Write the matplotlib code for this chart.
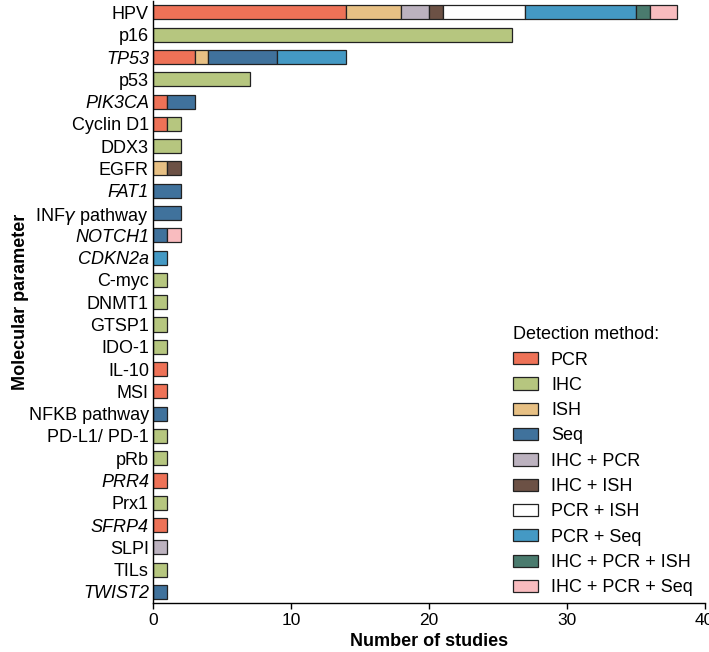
import matplotlib

matplotlib.use("Agg")

import matplotlib.pyplot as plt
from matplotlib.patches import Patch
import numpy as np

plt.rcParams["font.family"] = ["Liberation Sans", "DejaVu Sans"]

parameters = [
    "HPV", "p16", "TP53", "p53", "PIK3CA", "Cyclin D1", "DDX3", "EGFR",
    "FAT1", "INF$\\gamma$ pathway", "NOTCH1", "CDKN2a", "C-myc", "DNMT1",
    "GTSP1", "IDO-1", "IL-10", "MSI", "NFKB pathway", "PD-L1/ PD-1", "pRb",
    "PRR4", "Prx1", "SFRP4", "SLPI", "TILs", "TWIST2",
]
italic_names = {"TP53", "PIK3CA", "FAT1", "NOTCH1", "CDKN2a", "PRR4", "SFRP4", "TWIST2"}

methods = [
    "PCR", "IHC", "ISH", "Seq", "IHC + PCR", "IHC + ISH",
    "PCR + ISH", "PCR + Seq", "IHC + PCR + ISH", "IHC + PCR + Seq",
]
method_colors = [
    "#ee7257", "#b6c67f", "#e7c084", "#40729c", "#bcb2bf", "#6c5145",
    "#ffffff", "#4499c4", "#4a7b6e", "#f9bcbf",
]

# counts per parameter, one list per method (same order as parameters)
pcr = [14, 0, 3, 0, 1, 1, 0, 0, 0, 0, 0, 0, 0, 0, 0, 0, 1, 1, 0, 0, 0, 1, 0, 1, 0, 0, 0]
ihc = [0, 26, 0, 7, 0, 1, 2, 0, 0, 0, 0, 0, 1, 1, 1, 1, 0, 0, 0, 1, 1, 0, 1, 0, 0, 1, 0]
ish = [4, 0, 1, 0, 0, 0, 0, 1, 0, 0, 0, 0, 0, 0, 0, 0, 0, 0, 0, 0, 0, 0, 0, 0, 0, 0, 0]
seq = [0, 0, 5, 0, 2, 0, 0, 0, 2, 2, 1, 0, 0, 0, 0, 0, 0, 0, 1, 0, 0, 0, 0, 0, 0, 0, 1]
ihc_pcr = [2, 0, 0, 0, 0, 0, 0, 0, 0, 0, 0, 0, 0, 0, 0, 0, 0, 0, 0, 0, 0, 0, 0, 0, 1, 0, 0]
ihc_ish = [1, 0, 0, 0, 0, 0, 0, 1, 0, 0, 0, 0, 0, 0, 0, 0, 0, 0, 0, 0, 0, 0, 0, 0, 0, 0, 0]
pcr_ish = [6, 0, 0, 0, 0, 0, 0, 0, 0, 0, 0, 0, 0, 0, 0, 0, 0, 0, 0, 0, 0, 0, 0, 0, 0, 0, 0]
pcr_seq = [8, 0, 5, 0, 0, 0, 0, 0, 0, 0, 0, 1, 0, 0, 0, 0, 0, 0, 0, 0, 0, 0, 0, 0, 0, 0, 0]
ihc_pcr_ish = [1, 0, 0, 0, 0, 0, 0, 0, 0, 0, 0, 0, 0, 0, 0, 0, 0, 0, 0, 0, 0, 0, 0, 0, 0, 0, 0]
ihc_pcr_seq = [2, 0, 0, 0, 0, 0, 0, 0, 0, 0, 1, 0, 0, 0, 0, 0, 0, 0, 0, 0, 0, 0, 0, 0, 0, 0, 0]

series = [pcr, ihc, ish, seq, ihc_pcr, ihc_ish, pcr_ish, pcr_seq, ihc_pcr_ish, ihc_pcr_seq]

figure = plt.figure(figsize=(7.09, 6.52), dpi=100)
axis = figure.add_axes([0.216, 0.075, 0.778, 0.923])

positions = np.arange(len(parameters))
left = np.zeros(len(parameters))
for values, color in zip(series, method_colors):
    values = np.asarray(values, dtype=float)
    mask = values > 0
    axis.barh(
        positions[mask], values[mask], left=left[mask], height=0.63,
        color=color, edgecolor="#222222", linewidth=0.9,
    )
    left += values

axis.set_ylim(len(parameters) - 0.5, -0.5)
axis.set_xlim(0, 40)
axis.set_yticks(positions)
axis.set_yticklabels(parameters, fontsize=13)
for label in axis.get_yticklabels():
    if label.get_text() in italic_names:
        label.set_fontstyle("italic")
axis.tick_params(axis="y", length=0, pad=3)
axis.set_xticks([0, 10, 20, 30, 40])
axis.tick_params(axis="x", labelsize=12.5, length=4, width=1, direction="out", pad=3)
axis.spines["top"].set_visible(False)
axis.spines["right"].set_visible(False)
axis.spines["left"].set_linewidth(1)
axis.spines["bottom"].set_linewidth(1)
axis.set_xlabel("Number of studies", fontsize=13, fontweight="bold", labelpad=4)
axis.set_ylabel("Molecular parameter", fontsize=13, fontweight="bold", labelpad=0)

handles = [
    Patch(facecolor=c, edgecolor="#222222", linewidth=0.9, label=m)
    for m, c in zip(methods, method_colors)
]
figure.legend(
    handles=handles, title="Detection method:", loc="upper left",
    bbox_to_anchor=(0.7134, 0.5107), borderaxespad=0, frameon=False,
    fontsize=13, title_fontsize=13, alignment="left",
    handlelength=1.38, handleheight=0.66, handletextpad=0.72,
    labelspacing=0.46, borderpad=0.4,
)

figure.savefig("out.png", dpi=100)
